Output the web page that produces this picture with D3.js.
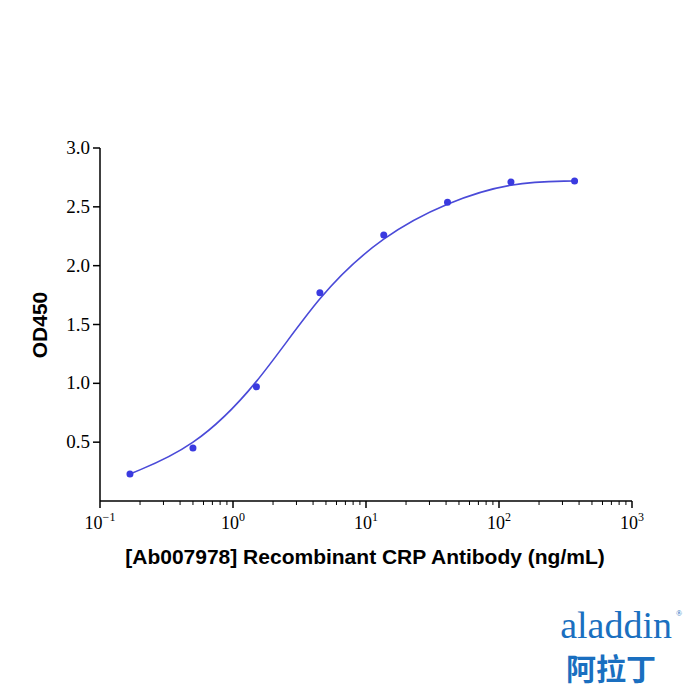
<!DOCTYPE html>
<html><head><meta charset="utf-8">
<script src="https://cdn.jsdelivr.net/npm/d3@7"></script>
<style>body{margin:0;background:#fff}.sf{font-family:'Liberation Serif','Times New Roman','DejaVu Serif',serif}</style></head>
<body><svg id="c" width="700" height="700"></svg>
<script>
const conc = [0.168, 0.5, 1.5, 4.5, 13.6, 41, 123, 370];
const od = [0.23, 0.45, 0.97, 1.77, 2.26, 2.54, 2.71, 2.72];
const yTicks = [0.5, 1.0, 1.5, 2.0, 2.5, 3.0];
const xExp = [-1, 0, 1, 2, 3];

const svg = d3.select("#c");
const x = d3.scaleLog().domain([0.1, 1000]).range([100, 632]);
const y = d3.scaleLinear().domain([0, 3]).range([501, 148]);

const gx = svg.append("g").attr("transform","translate(0,501)");
gx.append("line").attr("x1",100).attr("x2",632).attr("stroke","#000").attr("stroke-width",1.5);
const minor = [];
for (let e=-1;e<3;e++) for (let k=2;k<10;k++) minor.push(k*Math.pow(10,e));
gx.selectAll(".mn").data(minor).enter().append("line")
  .attr("x1",d=>x(d)).attr("x2",d=>x(d)).attr("y1",0).attr("y2",4).attr("stroke","#000");
const maj = gx.selectAll(".mj").data(xExp).enter().append("g").attr("transform",d=>`translate(${x(Math.pow(10,d))},0)`);
maj.append("line").attr("y2",7).attr("stroke","#000").attr("stroke-width",1.5);
const tx = maj.append("text").attr("class","sf").attr("y",28).attr("text-anchor","middle").attr("font-size",18);
tx.append("tspan").text("10");
tx.append("tspan").attr("dy",-8).attr("font-size",12).text(d=>d<0?"−"+(-d):d);

const gy = svg.append("g").attr("transform","translate(100,0)");
gy.append("line").attr("y1",148).attr("y2",501).attr("stroke","#000").attr("stroke-width",1.5);
gy.selectAll(".yt").data(yTicks).enter().append("line")
  .attr("x1",-7).attr("x2",0).attr("y1",d=>y(d)).attr("y2",d=>y(d)).attr("stroke","#000").attr("stroke-width",1.5);
gy.selectAll(".yl").data(yTicks).enter().append("text").attr("class","sf")
  .attr("x",-10).attr("y",d=>y(d)+6).attr("text-anchor","end").attr("font-size",19)
  .text(d=>d.toFixed(1));

svg.append("text").attr("x",365).attr("y",564).attr("text-anchor","middle")
  .attr("font-family","'Liberation Sans', Arial").attr("font-weight","bold").attr("font-size",21)
  .text("[Ab007978] Recombinant CRP Antibody (ng/mL)");
svg.append("text").attr("transform","translate(47,325) rotate(-90)").attr("text-anchor","middle")
  .attr("font-family","'Liberation Sans', Arial").attr("font-weight","bold").attr("font-size",21).text("OD450");

const data = conc.map((c,i)=>[c,od[i]]);
svg.append("path").datum(data).attr("fill","none").attr("stroke","#4a4ad8").attr("stroke-width",1.6)
  .attr("d", d3.line().x(d=>x(d[0])).y(d=>y(d[1])).curve(d3.curveBasis));
svg.selectAll(".pt").data(data).enter().append("circle")
  .attr("cx",d=>x(d[0])).attr("cy",d=>y(d[1])).attr("r",3.5).attr("fill","#3a3ae0");

svg.append("text").attr("class","sf").attr("x",672).attr("y",638).attr("text-anchor","end")
  .attr("font-size",38).attr("fill","#1a6fc0").text("aladdin");
svg.append("text").attr("x",676).attr("y",616).attr("font-size",8).attr("fill","#1a6fc0").text("®");
svg.append("text").attr("x",656).attr("y",680).attr("text-anchor","end")
  .attr("font-family","'Noto Sans CJK SC'").attr("font-weight","bold").attr("font-size",30).attr("fill","#1a6fc0").text("阿拉丁");
</script></body></html>
